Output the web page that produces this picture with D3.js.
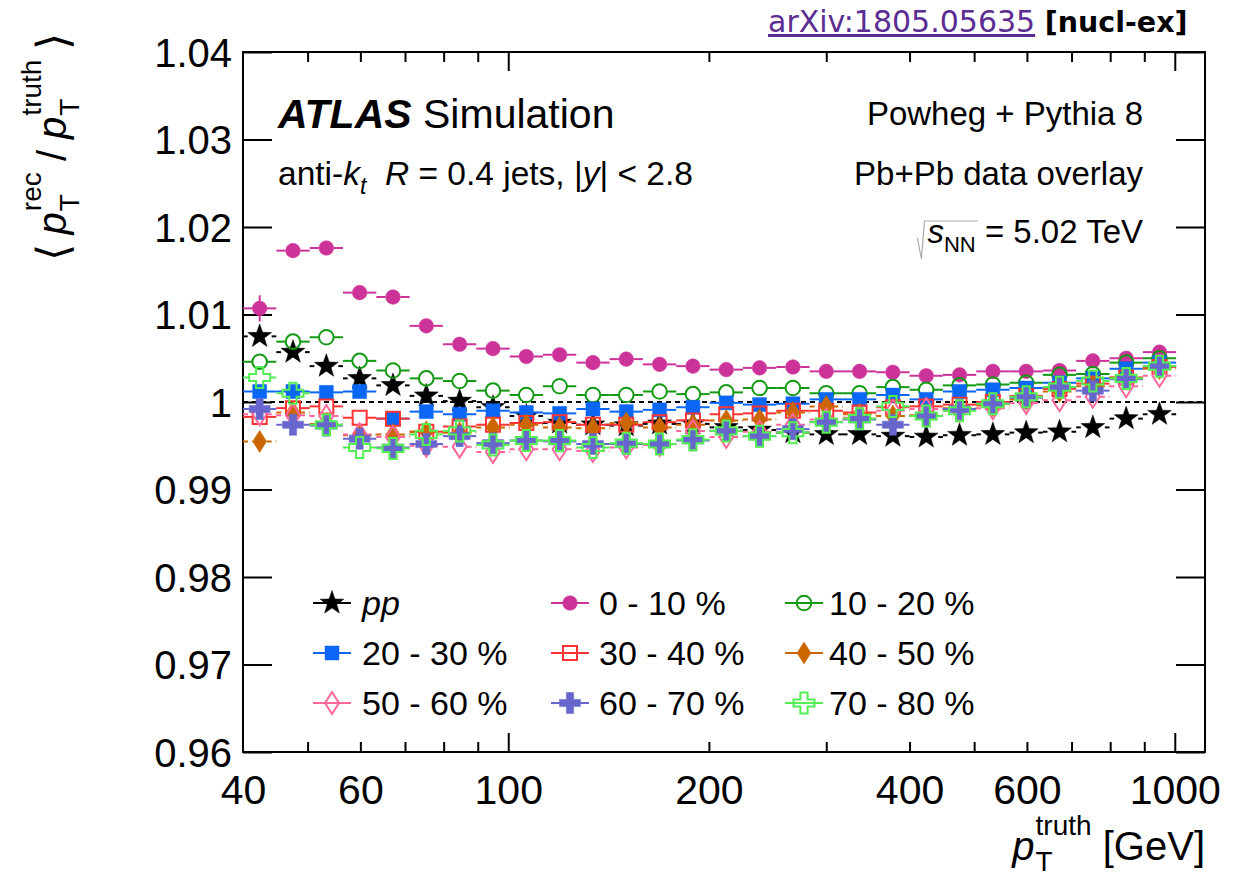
<!DOCTYPE html>
<html><head><meta charset="utf-8">
<script src="https://cdn.jsdelivr.net/npm/d3@7"></script>
<style>
body{margin:0;background:#fff}
svg{display:block}
text{fill:#000}
</style>
</head><body>
<svg id="c" width="1248" height="878" font-family="Liberation Sans, Arial, Helvetica, sans-serif"></svg>
<script>
// ---------------- data ----------------
const binEdges = [40,44.88,50.36,56.50,63.40,71.13,79.81,89.55,100.48,112.74,126.49,141.93,159.24,178.67,200.48,224.94,252.39,283.19,317.74,356.51,400.00,448.81,503.57,565.01,633.96,711.30,798.10,895.49,1004.76];
const seriesLabels = ["pp","0 - 10 %","10 - 20 %","20 - 30 %","30 - 40 %","40 - 50 %","50 - 60 %","60 - 70 %","70 - 80 %"];
const valsPP   = [1.0075,1.0057,1.0041,1.0027,1.0019,1.0007,1.0001,0.9994,0.9984,0.9976,0.9974,0.9973,0.9975,0.9975,0.9971,0.9968,0.9965,0.9963,0.9963,0.9961,0.9960,0.9962,0.9963,0.9965,0.9966,0.9971,0.9981,0.9986];
const vals0010 = [1.0107,1.0173,1.0176,1.0125,1.0120,1.0087,1.0066,1.0061,1.0052,1.0054,1.0045,1.0049,1.0043,1.0041,1.0037,1.0039,1.0040,1.0035,1.0035,1.0034,1.0030,1.0031,1.0035,1.0035,1.0036,1.0047,1.0050,1.0057];
const vals1020 = [1.0046,1.0069,1.0074,1.0047,1.0036,1.0027,1.0024,1.0013,1.0008,1.0018,1.0008,1.0008,1.0012,1.0009,1.0011,1.0016,1.0016,1.0010,1.0010,1.0017,1.0014,1.0019,1.0020,1.0022,1.0031,1.0032,1.0045,1.0050];
const vals2030 = [1.0012,1.0012,1.0011,1.0012,0.9981,0.9989,0.9986,0.9990,0.9988,0.9987,0.9992,0.9989,0.9991,0.9994,0.9999,0.9997,0.9998,1.0003,1.0003,1.0008,1.0003,1.0012,1.0014,1.0016,1.0022,1.0027,1.0038,1.0045];
const vals3040 = [0.9983,0.9993,0.9995,0.9982,0.9981,0.9966,0.9972,0.9974,0.9976,0.9977,0.9974,0.9974,0.9977,0.9979,0.9986,0.9987,0.9990,0.9990,0.9988,0.9994,0.9995,0.9997,1.0000,1.0007,1.0015,1.0021,1.0028,1.0040];
const vals4050 = [0.9955,0.9988,0.9975,0.9962,0.9963,0.9966,0.9965,0.9971,0.9974,0.9971,0.9970,0.9976,0.9971,0.9974,0.9979,0.9980,0.9988,0.9995,0.9986,0.9984,0.9985,0.9993,0.9996,1.0003,1.0012,1.0018,1.0028,1.0038];
const vals5060 = [0.9986,0.9985,0.9984,0.9963,0.9960,0.9950,0.9949,0.9943,0.9946,0.9946,0.9944,0.9948,0.9951,0.9967,0.9960,0.9966,0.9974,0.9980,0.9982,0.9990,0.9992,0.9990,0.9993,0.9999,1.0002,1.0006,1.0018,1.0030];
const vals6070 = [0.9992,0.9974,0.9973,0.9958,0.9948,0.9952,0.9961,0.9953,0.9956,0.9955,0.9952,0.9952,0.9952,0.9956,0.9967,0.9961,0.9969,0.9977,0.9980,0.9974,0.9984,0.9992,0.9998,1.0005,1.0017,1.0013,1.0026,1.0041];
const vals7080 = [1.0028,1.0010,0.9974,0.9948,0.9947,0.9963,0.9967,0.9951,0.9956,0.9956,0.9948,0.9953,0.9952,0.9957,0.9967,0.9961,0.9965,0.9977,0.9981,0.9995,0.9984,0.9990,0.9998,1.0006,1.0017,1.0024,1.0027,1.0041];
// statistical errors of the first bins (later bins are smaller than the markers)
const errPP   = [0.0007,0.0006,0.0004];
const err0010 = [0.0015,0.0005,0.0004];
const err1020 = [0.0008,0.0004];
const err7080 = [0.0008,0.0004];
const errDefault = 0.0002;

const xTickLabels = [40,60,100,200,400,600,1000];
const xMinorTicks = [50,60,70,80,90,200,300,400,500,600,700,800,900];
const xMajorTicks = [100,1000];
const yTicks = [0.96,0.97,0.98,0.99,1.00,1.01,1.02,1.03,1.04];
const yTickLabels = ["0.96","0.97","0.98","0.99","1","1.01","1.02","1.03","1.04"];

// ---------------- styles ----------------
const styles = [
  {color:"#000000", shape:"star",    filled:true,  dash:true },
  {color:"#cc3399", shape:"circle",  filled:true,  dash:false},
  {color:"#139913", shape:"circle",  filled:false, dash:false},
  {color:"#0a66f5", shape:"square",  filled:true,  dash:false},
  {color:"#ff3333", shape:"square",  filled:false, dash:false},
  {color:"#cc6600", shape:"diamond", filled:true,  dash:true },
  {color:"#ff6699", shape:"diamond", filled:false, dash:true },
  {color:"#6666cc", shape:"cross",   filled:true,  dash:false},
  {color:"#55ee55", shape:"cross",   filled:false, dash:false}
];
const allVals = [valsPP,vals0010,vals1020,vals2030,vals3040,vals4050,vals5060,vals6070,vals7080];
const allErr  = [errPP,err0010,err1020,[],[],[],[],[],err7080];
const series = seriesLabels.map((lab,i)=>Object.assign({label:lab, values:allVals[i], err:allErr[i]}, styles[i]));

// ---------------- geometry ----------------
const L=243, R=1205, T=52, B=752;
const svg = d3.select("#c");
const x = d3.scaleLog().domain([40,1110]).range([L,R]);
const y = d3.scaleLinear().domain([0.96,1.04]).range([B,T]);

function markerPath(shape){
  if(shape==="star"){
    const Ro=12.5, Ri=Ro*0.40; let p="";
    for(let k=0;k<10;k++){const a=-Math.PI/2+k*Math.PI/5, r=k%2?Ri:Ro; p+=(k?"L":"M")+(r*Math.cos(a)).toFixed(2)+","+(r*Math.sin(a)).toFixed(2);} return p+"Z";
  }
  if(shape==="circle"){const r=7.3; return `M${r},0A${r},${r} 0 1,1 ${-r},0A${r},${r} 0 1,1 ${r},0Z`;}
  if(shape==="square"){const s=7; return `M${-s},${-s}H${s}V${s}H${-s}Z`;}
  if(shape==="diamond"){const w=7, h=11; return `M0,${-h}L${w},0L0,${h}L${-w},0Z`;}
  if(shape==="cross"){const a=10.5, w=3.6; return `M${-w},${-a}H${w}V${-w}H${a}V${w}H${w}V${a}H${-w}V${w}H${-a}V${-w}H${-w}Z`;}
}
const halfW = {star:12, circle:7.3, square:7, diamond:7, cross:10.5};
const halfH = {star:12, circle:7.3, square:7, diamond:11, cross:10.5};

// ---------------- frame and axes ----------------
const defs = svg.append("defs");
defs.append("clipPath").attr("id","clip").append("rect").attr("x",L).attr("y",T).attr("width",R-L).attr("height",B-T);

// dashed reference line at 1
svg.append("line").attr("x1",L).attr("x2",R).attr("y1",y(1)).attr("y2",y(1))
  .attr("stroke","#000").attr("stroke-width",2).attr("stroke-dasharray","5,4");

function styleAxis(g){ g.select(".domain").remove(); g.selectAll("line").attr("stroke","#000").attr("stroke-width",2); g.attr("font-family",null); }

// y axis left with labels
const yAxis = d3.axisLeft(y).tickValues(yTicks).tickSize(-29).tickPadding(11).tickFormat((d,i)=>yTickLabels[i]);
svg.append("g").attr("transform",`translate(${L},0)`).call(yAxis).call(styleAxis)
  .selectAll("text").attr("font-size",40).attr("dy","0.35em");
svg.append("g").attr("transform",`translate(${R},0)`).call(d3.axisRight(y).tickValues(yTicks).tickSize(-29).tickFormat(""))
  .call(styleAxis);

// x axis ticks (bottom and top)
svg.append("g").attr("transform",`translate(0,${B})`).call(d3.axisBottom(x).tickValues(xMinorTicks).tickSize(-10).tickFormat("")).call(styleAxis);
svg.append("g").attr("transform",`translate(0,${B})`).call(d3.axisBottom(x).tickValues(xMajorTicks).tickSize(-19).tickFormat("")).call(styleAxis);
svg.append("g").attr("transform",`translate(0,${T})`).call(d3.axisTop(x).tickValues(xMinorTicks).tickSize(-10).tickFormat("")).call(styleAxis);
svg.append("g").attr("transform",`translate(0,${T})`).call(d3.axisTop(x).tickValues(xMajorTicks).tickSize(-19).tickFormat("")).call(styleAxis);
svg.append("g").attr("transform",`translate(0,${B})`)
  .call(d3.axisBottom(x).tickValues(xTickLabels).tickSize(0).tickPadding(23).tickFormat(d=>String(d))).call(styleAxis)
  .selectAll("text").attr("font-size",41);

// frame
svg.append("rect").attr("x",L).attr("y",T).attr("width",R-L).attr("height",B-T)
  .attr("fill","none").attr("stroke","#000").attr("stroke-width",2);

// ---------------- data series ----------------
const plot = svg.append("g").attr("clip-path","url(#clip)");
series.forEach(s=>{
  const g = plot.append("g");
  const pts = s.values.map((v,i)=>{
    const lo=binEdges[i], hi=binEdges[i+1];
    return {v, lo, hi, c:Math.sqrt(lo*hi), e:(s.err[i]!==undefined?s.err[i]:errDefault)};
  });
  const hw = halfW[s.shape], hh = halfH[s.shape];
  const dash = s.dash ? "5,4" : null;
  pts.forEach(p=>{
    const cx=x(p.c), cy=y(p.v);
    g.append("line").attr("x1",x(p.lo)).attr("x2",Math.max(x(p.lo),cx-hw)).attr("y1",cy).attr("y2",cy)
      .attr("stroke",s.color).attr("stroke-width",2).attr("stroke-dasharray",dash);
    g.append("line").attr("x1",Math.min(x(p.hi),cx+hw)).attr("x2",x(p.hi)).attr("y1",cy).attr("y2",cy)
      .attr("stroke",s.color).attr("stroke-width",2).attr("stroke-dasharray",dash);
    const yt=y(p.v+p.e), yb=y(p.v-p.e);
    if(cy-yt>hh){ g.append("line").attr("x1",cx).attr("x2",cx).attr("y1",yt).attr("y2",cy-hh).attr("stroke",s.color).attr("stroke-width",2); }
    if(yb-cy>hh){ g.append("line").attr("x1",cx).attr("x2",cx).attr("y1",cy+hh).attr("y2",yb).attr("stroke",s.color).attr("stroke-width",2); }
  });
  g.selectAll("path.m").data(pts).join("path").attr("class","m")
    .attr("d",markerPath(s.shape))
    .attr("transform",p=>`translate(${x(p.c)},${y(p.v)})`)
    .attr("fill",s.filled?s.color:"none")
    .attr("stroke",s.color).attr("stroke-width",s.filled?0.5:2);
});

// ---------------- legend ----------------
const legCols=[332,570,804], legRows=[603,653,703], legTextX=[362,599,829];
series.forEach((s,i)=>{
  const col=i%3, row=Math.floor(i/3);
  const mx=legCols[col], my=legRows[row];
  const g=svg.append("g");
  g.append("line").attr("x1",mx-19).attr("x2",mx+19).attr("y1",my).attr("y2",my).attr("stroke",s.color).attr("stroke-width",2);
  g.append("path").attr("d",markerPath(s.shape)).attr("transform",`translate(${mx},${my})`)
    .attr("fill",s.filled?s.color:"none").attr("stroke",s.color).attr("stroke-width",s.filled?0.5:2);
  g.append("text").attr("x",legTextX[col]).attr("y",my+12).attr("font-size",34)
    .attr("font-style",i===0?"italic":"normal").text(s.label);
});

// ---------------- annotations ----------------
const t1 = svg.append("text").attr("x",278).attr("y",128).attr("font-size",41);
t1.append("tspan").attr("font-weight","bold").attr("font-style","italic").text("ATLAS");
t1.append("tspan").text(" Simulation");

const t2 = svg.append("text").attr("x",278).attr("y",185).attr("font-size",33.5);
t2.append("tspan").text("anti-");
t2.append("tspan").attr("font-style","italic").text("k");
t2.append("tspan").attr("font-style","italic").attr("font-size",23).attr("dy",9).text("t");
t2.append("tspan").attr("dy",-9).text("\u00A0 ");
t2.append("tspan").attr("font-style","italic").text("R");
t2.append("tspan").text(" = 0.4 jets, |");
t2.append("tspan").attr("font-style","italic").text("y");
t2.append("tspan").text("| < 2.8");

svg.append("text").attr("x",1143).attr("y",125).attr("font-size",33).attr("text-anchor","end").text("Powheg + Pythia 8");
svg.append("text").attr("x",1143).attr("y",185).attr("font-size",33).attr("text-anchor","end").text("Pb+Pb data overlay");
const t3 = svg.append("text").attr("x",1143).attr("y",243).attr("font-size",33).attr("text-anchor","end");
t3.append("tspan").attr("font-style","italic").text("s");
t3.append("tspan").attr("font-size",22).attr("dy",9).text("NN");
t3.append("tspan").attr("dy",-9).text(" = 5.02 TeV");
{
  const bb=t3.node().getBBox();
  const sx=bb.x;
  const tsp=t3.selectAll("tspan").nodes();
  const sEnd = sx + tsp[0].getComputedTextLength() + tsp[1].getComputedTextLength();
  svg.append("path").attr("d",`M${sx-10},${238}L${sx-6},${259}L${sx-3},${221}H${sEnd+2}`)
    .attr("fill","none").attr("stroke","#aaa").attr("stroke-width",1.2);
}

// axis titles
function layoutPT(g, x0, sup, base, small, subDy){
  const p=g.append("text").attr("x",x0).attr("y",0).attr("font-size",base).attr("font-style","italic").text("p");
  const pw=p.node().getComputedTextLength();
  const su=g.append("text").attr("x",x0+pw+1).attr("y",-0.62*base).attr("font-size",small).text(sup);
  const sb=g.append("text").attr("x",x0+pw+1).attr("y",subDy).attr("font-size",small).text("T");
  return x0+pw+1+Math.max(su.node().getComputedTextLength(), sb.node().getComputedTextLength());
}
// y title
{
  const g=svg.append("g");
  let cx=0;
  const a=g.append("text").attr("x",cx).attr("y",2).attr("font-size",44).attr("font-family","DejaVu Sans").attr("font-weight","200").text("\u27E8");
  cx+=a.node().getComputedTextLength()+10;
  cx=layoutPT(g,cx,"rec",40,28,13);
  const sl=g.append("text").attr("x",cx).attr("y",0).attr("font-size",40).text("\u00A0/\u00A0");
  cx+=sl.node().getComputedTextLength();
  cx=layoutPT(g,cx,"truth",40,28,13);
  cx+=10;
  const b=g.append("text").attr("x",cx).attr("y",2).attr("font-size",44).attr("font-family","DejaVu Sans").attr("font-weight","200").text("\u27E9");
  cx+=b.node().getComputedTextLength();
  g.attr("transform",`translate(66,${147+cx/2}) rotate(-90)`);
}
// x title
{
  const g=svg.append("g");
  let cx=layoutPT(g,0,"truth",40,28,11);
  const gv=g.append("text").attr("x",cx).attr("y",0).attr("font-size",40).text("\u00A0[GeV]");
  cx+=gv.node().getComputedTextLength();
  g.attr("transform",`translate(${R-cx},860)`);
}

// arXiv stamp
const ax = svg.append("text").attr("x",768).attr("y",32).attr("font-size",30).attr("font-family","DejaVu Sans, sans-serif");
ax.append("tspan").attr("fill","#5b2c91").attr("text-decoration","underline").text("arXiv:1805.05635");
ax.append("tspan").text(" ");
ax.append("tspan").attr("font-weight","bold").attr("font-size",28.5).text("[nucl-ex]");
</script>
</body></html>
